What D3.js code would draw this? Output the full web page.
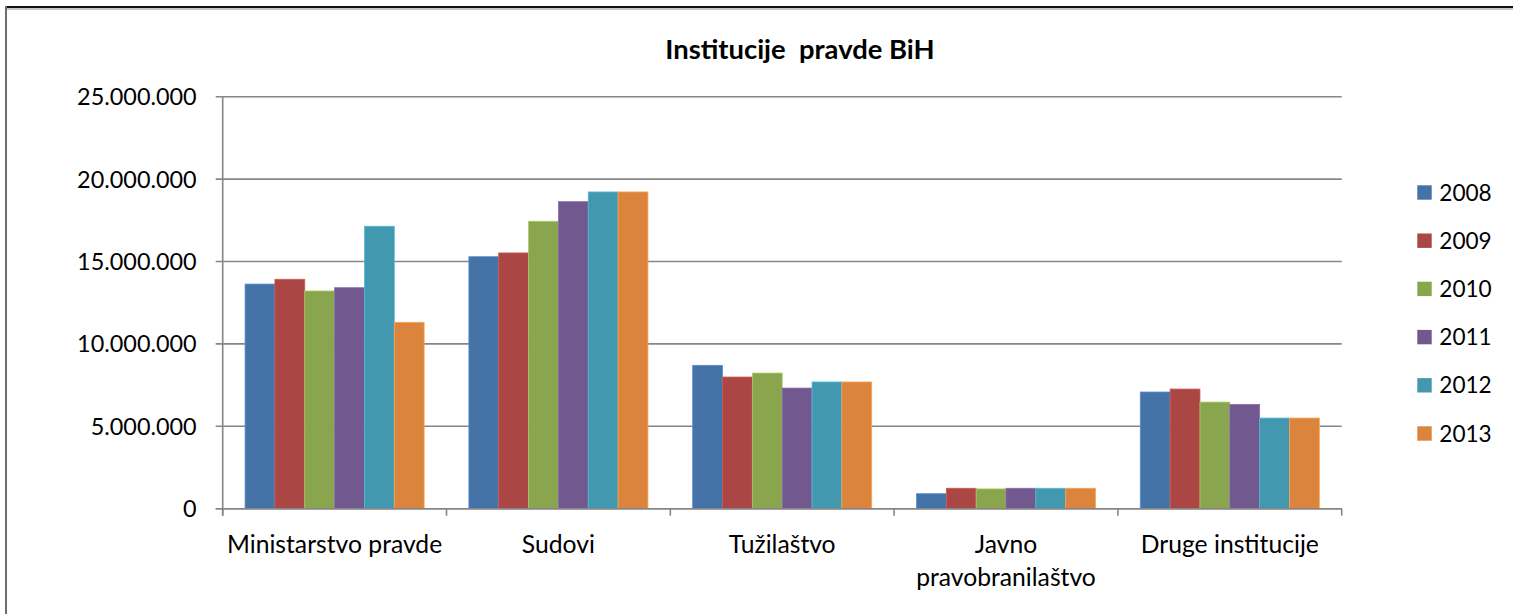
<!DOCTYPE html>
<html>
<head>
<meta charset="utf-8">
<script src="https://cdn.jsdelivr.net/npm/d3@7"></script>
<style>
  html, body { margin: 0; padding: 0; background: #fff; }
  svg { display: block; }
  text { font-family: Lato, "Open Sans", sans-serif; fill: #000; }
</style>
</head>
<body>
<svg id="chart" width="1513" height="614"></svg>
<script>
// ---- Data ----
const categories = ["Ministarstvo pravde", "Sudovi", "Tužilaštvo", "Javno pravobranilaštvo", "Druge institucije"];
const years = ["2008", "2009", "2010", "2011", "2012", "2013"];
const v2008 = [13630000, 15290000, 8700000, 910000, 7080000];
const v2009 = [13920000, 15520000, 7990000, 1240000, 7260000];
const v2010 = [13210000, 17440000, 8230000, 1200000, 6470000];
const v2011 = [13410000, 18630000, 7320000, 1240000, 6330000];
const v2012 = [17140000, 19220000, 7690000, 1240000, 5500000];
const v2013 = [11310000, 19220000, 7690000, 1240000, 5500000];
const seriesValues = [v2008, v2009, v2010, v2011, v2012, v2013];
const colors = ["#4572A7", "#AA4643", "#89A54E", "#71588F", "#4198AF", "#DB843D"];
const yTicks = [0, 5000000, 10000000, 15000000, 20000000, 25000000];
const title = "Institucije  pravde BiH";

// ---- Layout ----
const svg = d3.select("#chart");
const plot = { left: 222.7, right: 1341.7, top: 96.7, bottom: 508.7 };

// frame
svg.append("line").attr("x1", 6).attr("x2", 1513).attr("y1", 9).attr("y2", 9)
  .attr("stroke", "#c8c8c8").attr("stroke-width", 2);
svg.append("line").attr("x1", 5).attr("x2", 1513).attr("y1", 7).attr("y2", 7)
  .attr("stroke", "#111").attr("stroke-width", 2);
svg.append("line").attr("x1", 6).attr("x2", 6).attr("y1", 6).attr("y2", 614)
  .attr("stroke", "#6e6e6e").attr("stroke-width", 2);

const loc = d3.formatLocale({ decimal: ",", thousands: ".", grouping: [3], currency: ["", ""] });
const fmt = loc.format(",.0f");

const x0 = d3.scaleBand().domain(categories).range([plot.left, plot.right]).paddingInner(0).paddingOuter(0);
const bw = x0.bandwidth();
const x1 = d3.scaleBand().domain(years).range([bw * 0.1, bw * 0.9]).padding(0);
const y = d3.scaleLinear().domain([0, 25000000]).range([plot.bottom, plot.top]);

// gridlines + y labels
const gridG = svg.append("g");
gridG.selectAll("line").data(yTicks).join("line")
  .attr("x1", plot.left - 7).attr("x2", plot.right)
  .attr("y1", d => y(d)).attr("y2", d => y(d))
  .attr("stroke", "#868686").attr("stroke-width", 1.6);
svg.append("g").selectAll("text").data(yTicks).join("text")
  .attr("x", 196.7).attr("y", d => y(d) + 8.4)
  .attr("text-anchor", "end").attr("font-size", 23.4)
  .text(d => fmt(d));

// bars
const barG = svg.append("g");
years.forEach((yr, si) => {
  barG.append("g").selectAll("rect").data(seriesValues[si]).join("rect")
    .attr("x", (d, i) => x0(categories[i]) + x1(yr))
    .attr("width", x1.bandwidth())
    .attr("y", d => y(d))
    .attr("height", d => y(0) - y(d))
    .attr("fill", colors[si])
    .attr("stroke", d3.color(colors[si]).brighter(0.6))
    .attr("stroke-width", 0.8);
});

// axes lines (drawn on top)
svg.append("line").attr("x1", plot.left).attr("x2", plot.left)
  .attr("y1", plot.top).attr("y2", plot.bottom + 7)
  .attr("stroke", "#868686").attr("stroke-width", 1.6);
svg.append("line").attr("x1", plot.left - 7).attr("x2", plot.right)
  .attr("y1", plot.bottom).attr("y2", plot.bottom)
  .attr("stroke", "#868686").attr("stroke-width", 1.6);
const edges = categories.map(c => x0(c)).concat([plot.right]);
svg.append("g").selectAll("line").data(edges).join("line")
  .attr("x1", d => d).attr("x2", d => d)
  .attr("y1", plot.bottom).attr("y2", plot.bottom + 7)
  .attr("stroke", "#868686").attr("stroke-width", 1.6);

// category labels (wrap Javno pravobranilaštvo)
const catG = svg.append("g");
categories.forEach(c => {
  const t = catG.append("text")
    .attr("x", x0(c) + bw / 2).attr("y", 553)
    .attr("text-anchor", "middle").attr("font-size", 24.7);
  const lines = c === "Javno pravobranilaštvo" ? ["Javno", "pravobranilaštvo"] : [c];
  lines.forEach((ln, li) => {
    t.append("tspan").attr("x", x0(c) + bw / 2).attr("dy", li === 0 ? 0 : 33).text(ln);
  });
});

// title
svg.append("text").attr("x", 800).attr("y", 58.5)
  .attr("text-anchor", "middle").attr("font-size", 27.4).attr("font-weight", "bold")
  .attr("xml:space", "preserve").style("white-space", "pre")
  .text(title);

// legend
const lg = svg.append("g");
years.forEach((yr, i) => {
  const cy = 192.5 + i * 48.2;
  lg.append("rect").attr("x", 1417.3).attr("y", cy - 7.2).attr("width", 14.4).attr("height", 14.4)
    .attr("fill", colors[i]);
  lg.append("text").attr("x", 1439.3).attr("y", cy + 8)
    .attr("font-size", 22.6).text(yr);
});
</script>
</body>
</html>
